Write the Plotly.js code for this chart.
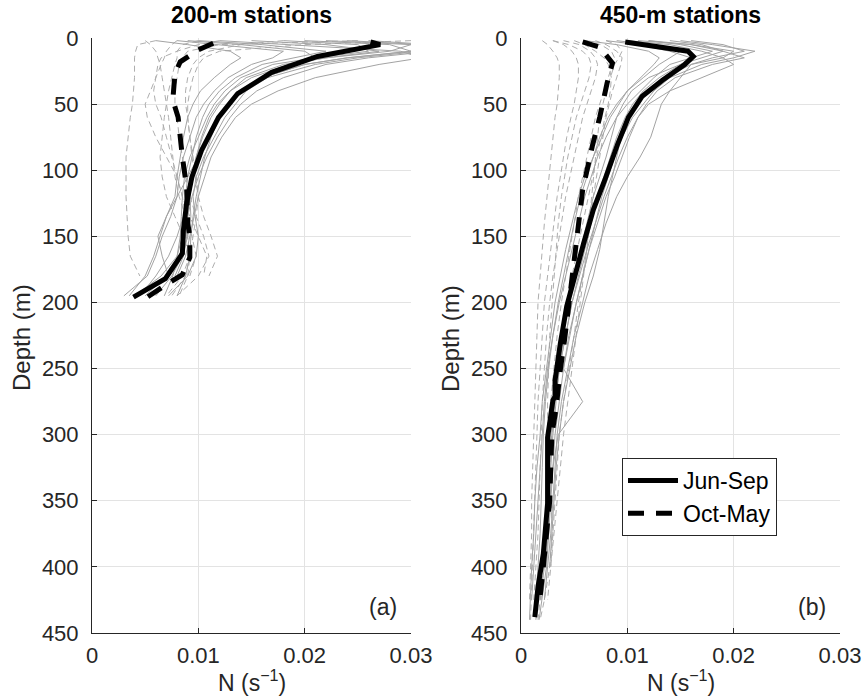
<!DOCTYPE html>
<html><head><meta charset="utf-8">
<script src="https://cdn.plot.ly/plotly-3.0.1.min.js"></script>
<style>body{margin:0;background:#fff}#plot{width:864px;height:697px}</style>
</head><body><div id="plot"></div>
<script>
// ---------- Panel (a): 200-m stations ----------
const depthA = [2,5,10,15,20,30,40,50,60,75,90,105,120,135,150,165,180,195];
const junSepA = [
 [0.024,0.031,0.032,0.026,0.022,0.018,0.0155,0.014,0.013,0.0118,0.0108,0.0100,0.0094,0.0090,0.0088,0.0082,0.0070,0.0050],
 [0.020,0.028,0.030,0.024,0.020,0.016,0.0140,0.0128,0.0118,0.0108,0.0100,0.0095,0.0092,0.0093,0.0090,0.0085,0.0075,0.0060],
 [0.015,0.022,0.027,0.022,0.018,0.0145,0.0130,0.0120,0.0112,0.0104,0.0098,0.0094,0.0090,0.0086,0.0080,0.0072,0.0060,0.0045],
 [0.012,0.018,0.029,0.031,0.027,0.021,0.0175,0.0150,0.0135,0.0122,0.0112,0.0106,0.0100,0.0096,0.0092,0.0088,0.0080,null],
 [0.010,0.016,0.022,0.019,0.016,0.0135,0.0120,0.0110,0.0104,0.0098,0.0094,0.0090,0.0088,0.0087,0.0085,0.0080,0.0065,0.0040],
 [0.008,0.012,0.018,0.017,0.015,0.0128,0.0115,0.0105,0.0098,0.0092,0.0086,0.0082,0.0080,0.0074,0.0066,0.0060,0.0052,0.0030],
 [0.026,0.032,0.031,0.025,0.021,0.0165,0.0145,0.0135,0.0125,0.0115,0.0105,0.0098,0.0095,0.0097,0.0100,0.0098,0.0090,0.0072],
 [0.006,0.009,0.013,0.014,0.013,0.0115,0.0102,0.0095,0.0090,0.0086,0.0083,0.0080,0.0078,0.0070,0.0062,0.0066,0.0072,null],
 [0.018,0.025,0.026,0.021,0.017,0.0140,0.0125,0.0115,0.0108,0.0100,0.0092,0.0087,0.0085,0.0084,0.0083,0.0080,0.0076,0.0068],
 [0.022,0.030,0.028,0.022,0.0185,0.0150,0.0130,0.0118,0.0110,0.0103,0.0098,0.0094,0.0092,0.0090,0.0089,0.0086,0.0078,null],
 [0.009,0.014,0.020,0.021,0.019,0.016,0.0140,0.0128,0.0118,0.0108,0.0100,0.0090,0.0080,0.0070,0.0064,0.0058,0.0050,0.0035],
 [0.030,0.033,0.030,0.024,0.0200,0.0160,0.0140,0.0128,0.0120,0.0112,0.0106,0.0102,0.0098,0.0095,0.0093,0.0092,0.0088,0.0080]
];
const octMayA = [
 [0.006,0.0043,0.0041,0.0040,0.0040,0.0040,0.0039,0.0038,0.0036,0.0034,0.0032,0.0032,0.0032,0.0033,0.0034,0.0036,0.0045,null],
 [0.012,0.010,0.008,0.0065,0.0062,0.0060,0.0058,0.0060,0.0065,0.0070,0.0075,0.0080,0.0085,0.0092,0.0100,0.0108,0.0105,null],
 [0.025,0.012,0.009,0.0085,0.0082,0.0080,0.0078,0.0078,0.0080,0.0082,0.0085,0.0088,0.0092,0.0098,0.0105,0.0110,0.0100,0.0080],
 [0.018,0.014,0.011,0.010,0.0095,0.0090,0.0088,0.0088,0.0090,0.0092,0.0094,0.0097,0.0100,0.0105,0.0112,0.0118,0.0110,null],
 [0.008,0.0075,0.0070,0.0068,0.0065,0.0060,0.0055,0.0050,0.0052,0.0060,0.0070,0.0080,0.0085,0.0088,0.0090,0.0092,0.0085,0.0070],
 [0.030,0.020,0.012,0.0105,0.0100,0.0095,0.0092,0.0090,0.0090,0.0092,0.0095,0.0098,0.0100,0.0098,0.0095,0.0092,0.0088,0.0075],
 [0.005,0.0055,0.0060,0.0062,0.0064,0.0066,0.0068,0.0070,0.0072,0.0074,0.0076,0.0078,0.0082,0.0088,0.0094,0.0098,0.0092,null],
 [0.010,0.0085,0.0080,0.0080,0.0078,0.0075,0.0072,0.0070,0.0068,0.0066,0.0064,0.0066,0.0070,0.0078,0.0086,0.0092,0.0090,0.0082]
];
const meanJunSepA_depth = [3,5,14,26,42,60,85,105,125,145,163,169,182,196];
const meanJunSepA_N     = [0.0262,0.0271,0.0212,0.0169,0.0137,0.0119,0.0103,0.0094,0.0089,0.0086,0.0085,0.0080,0.0069,0.0039];
const meanOctMayA_depth = [4,9,18,27,47,60,90,113,140,150,166,179,188,196];
const meanOctMayA_N     = [0.0114,0.0100,0.0083,0.0078,0.0076,0.0081,0.0085,0.0089,0.0090,0.0092,0.0092,0.0085,0.0067,0.0052];

// ---------- Panel (b): 450-m stations ----------
const depthB = [2,5,10,15,20,30,40,50,60,75,90,105,120,140,160,180,200,225,250,275,300,325,350,375,400,425,440];
const junSepB = [
 [0.015,0.018,0.022,0.020,0.017,0.0140,0.0125,0.0115,0.0105,0.0095,0.0088,0.0082,0.0076,0.0070,0.0064,0.0058,0.0052,0.0046,0.0040,0.0036,0.0032,0.0030,0.0028,0.0026,0.0022,0.0018,null],
 [0.012,0.016,0.019,0.021,0.018,0.0145,0.0128,0.0118,0.0110,0.0102,0.0095,0.0088,0.0080,0.0072,0.0064,0.0058,0.0052,0.0045,0.0040,0.0058,0.0035,0.0030,0.0027,0.0025,0.0022,null,null],
 [0.010,0.014,0.017,0.019,0.020,0.017,0.0140,0.0120,0.0110,0.0100,0.0092,0.0085,0.0078,0.0070,0.0062,0.0055,0.0048,0.0042,0.0036,0.0032,0.0029,0.0027,0.0025,0.0022,0.0019,0.0016,0.0014],
 [0.008,0.011,0.014,0.016,0.015,0.0130,0.0115,0.0105,0.0098,0.0090,0.0084,0.0078,0.0072,0.0066,0.0060,0.0054,0.0048,0.0042,0.0036,0.0032,0.0028,0.0026,0.0024,0.0022,0.0018,null,null],
 [0.012,0.015,0.018,0.016,0.014,0.0125,0.0112,0.0100,0.0090,0.0080,0.0072,0.0066,0.0060,0.0054,0.0048,0.0042,0.0036,0.0030,0.0026,0.0023,0.0021,0.0020,0.0019,0.0018,0.0016,0.0014,null],
 [0.016,0.019,0.021,0.018,0.016,0.0150,0.0140,0.0132,0.0128,0.0122,0.0112,0.0100,0.0090,0.0080,0.0072,0.0064,0.0058,0.0050,0.0044,0.0038,0.0034,0.0032,0.0030,0.0028,0.0025,0.0022,null],
 [0.009,0.012,0.015,0.014,0.013,0.0115,0.0100,0.0090,0.0082,0.0074,0.0068,0.0062,0.0056,0.0050,0.0045,0.0040,0.0035,0.0030,0.0025,0.0022,0.0020,0.0018,0.0016,0.0014,0.0012,0.0010,null],
 [0.011,0.016,0.020,0.019,0.016,0.0135,0.0120,0.0108,0.0100,0.0094,0.0090,0.0086,0.0082,0.0078,0.0074,0.0068,0.0060,0.0052,0.0046,0.0040,0.0036,0.0033,0.0031,0.0029,0.0027,null,null],
 [0.006,0.009,0.012,0.013,0.0125,0.0112,0.0100,0.0092,0.0084,0.0076,0.0068,0.0060,0.0054,0.0048,0.0042,0.0037,0.0032,0.0028,0.0024,0.0020,0.0018,0.0015,0.0013,0.0012,0.0010,0.0009,0.0008],
 [0.014,0.017,0.019,0.017,0.0150,0.0120,0.0104,0.0096,0.0090,0.0085,0.0080,0.0074,0.0068,0.0062,0.0056,0.0050,0.0044,0.0040,0.0036,0.0033,0.0030,0.0028,0.0027,0.0026,0.0024,0.0020,0.0017]
];
const octMayB = [
 [0.002,0.0025,0.0030,0.0034,0.0036,0.0036,0.0035,0.0034,0.0032,0.0030,0.0028,0.0026,0.0024,0.0022,0.0020,0.0018,0.0016,0.0015,0.0014,0.0013,0.0012,0.0011,0.0010,0.0010,0.0009,0.0008,null],
 [0.003,0.0040,0.0048,0.0052,0.0054,0.0054,0.0052,0.0050,0.0047,0.0043,0.0040,0.0037,0.0034,0.0031,0.0028,0.0025,0.0022,0.0020,0.0018,0.0016,0.0015,0.0014,0.0013,0.0012,0.0011,0.0010,0.0009],
 [0.004,0.0055,0.0065,0.0070,0.0072,0.0070,0.0066,0.0062,0.0058,0.0054,0.0050,0.0046,0.0042,0.0038,0.0034,0.0030,0.0027,0.0024,0.0022,0.0020,0.0019,0.0018,0.0017,0.0016,0.0014,0.0012,null],
 [0.006,0.0075,0.0085,0.0088,0.0086,0.0082,0.0078,0.0074,0.0070,0.0066,0.0062,0.0058,0.0054,0.0050,0.0046,0.0042,0.0038,0.0034,0.0031,0.0028,0.0026,0.0025,0.0024,0.0022,0.0020,0.0018,0.0016],
 [0.008,0.0090,0.0095,0.0092,0.0088,0.0084,0.0080,0.0077,0.0074,0.0072,0.0070,0.0068,0.0066,0.0064,0.0062,0.0058,0.0054,0.0050,0.0045,0.0040,0.0036,0.0034,0.0032,0.0030,0.0028,null,null],
 [0.003,0.0045,0.0058,0.0064,0.0066,0.0064,0.0060,0.0056,0.0052,0.0048,0.0044,0.0041,0.0038,0.0035,0.0033,0.0031,0.0029,0.0027,0.0026,0.0025,0.0025,0.0026,0.0028,0.0030,0.0027,0.0022,0.0018],
 [0.005,0.0060,0.0070,0.0078,0.0082,0.0085,0.0084,0.0082,0.0079,0.0075,0.0071,0.0067,0.0063,0.0058,0.0053,0.0048,0.0043,0.0038,0.0034,0.0031,0.0029,0.0027,0.0025,0.0023,0.0021,0.0019,null],
 [0.007,0.0080,0.0090,0.0095,0.0094,0.0090,0.0086,0.0083,0.0080,0.0077,0.0074,0.0071,0.0068,0.0065,0.0062,0.0059,0.0056,0.0052,0.0048,0.0044,0.0040,0.0037,0.0034,0.0031,0.0028,0.0025,null]
];
const meanJunSepB_depth = [3,10,14,20,32,44,60,80,107,130,155,173,203,231,259,271,274,291,302,327,352,390,415,438];
const meanJunSepB_N     = [0.0098,0.0157,0.0162,0.0154,0.0133,0.0114,0.0101,0.0091,0.0079,0.0068,0.0059,0.0053,0.0043,0.0037,0.0032,0.0032,0.0030,0.0027,0.0025,0.0025,0.0025,0.0021,0.0016,0.0013];
const meanOctMayB_depth = [3,7,19,34,60,82,115,150,178,228,251,280,300,350,400,430];
const meanOctMayB_N     = [0.0058,0.0074,0.0086,0.0081,0.0074,0.0067,0.0058,0.0053,0.0049,0.0041,0.0037,0.0033,0.0029,0.0027,0.0021,0.0017];

const seasons = ['Jun-Sep','Oct-May'];
const xTicks = [0,0.01,0.02,0.03];
const xTickText = ['0','0.01','0.02','0.03'];
const yTicks = [0,50,100,150,200,250,300,350,400,450];
const panelTitles = ['200-m stations','450-m stations'];
const panelLabels = ['(a)','(b)'];

// ---------- Build traces ----------
const traces = [];
function thin(N, depth, dashed, xa, ya){
  traces.push({x:N, y:depth, xaxis:xa, yaxis:ya, type:'scatter', mode:'lines',
    line:{color: dashed ? '#adadad' : '#a3a3a3', width:1, dash: dashed ? '6px,4px' : 'solid'},
    showlegend:false, hoverinfo:'skip', connectgaps:false});
}
octMayA.forEach(r=>thin(r, depthA, true, 'x','y'));
junSepA.forEach(r=>thin(r, depthA, false, 'x','y'));
octMayB.forEach(r=>thin(r, depthB, true, 'x2','y2'));
junSepB.forEach(r=>thin(r, depthB, false, 'x2','y2'));

traces.push({x:meanOctMayA_N, y:meanOctMayA_depth, xaxis:'x', yaxis:'y', mode:'lines',
  line:{color:'#000', width:5, dash:'16px,12px'}, showlegend:false});
traces.push({x:meanJunSepA_N, y:meanJunSepA_depth, xaxis:'x', yaxis:'y', mode:'lines',
  line:{color:'#000', width:5}, showlegend:false});
traces.push({x:meanOctMayB_N, y:meanOctMayB_depth, xaxis:'x2', yaxis:'y2', mode:'lines', name:seasons[1],
  line:{color:'#000', width:5, dash:'16px,12px'}, showlegend:true, legendrank:2});
traces.push({x:meanJunSepB_N, y:meanJunSepB_depth, xaxis:'x2', yaxis:'y2', mode:'lines', name:seasons[0],
  line:{color:'#000', width:5}, showlegend:true, legendrank:1});

const FONT = 'Liberation Sans, Arial, Helvetica, sans-serif';
const W = 864, H = 697;
const yDom = [1-633/H, 1-38/H];
function xax(dom){
  return {domain:dom, range:[0,0.03], tickvals:xTicks, ticktext:xTickText, ticks:'inside', ticklen:5,
    tickcolor:'#262626', showline:true, linecolor:'#262626', linewidth:1, showgrid:true, gridcolor:'#e3e3e3',
    zeroline:false, tickfont:{size:22, color:'#262626'}, ticklabelstandoff:3, fixedrange:true};
}
function yax(anchor){
  return {domain:yDom, range:[450,0], anchor:anchor, tickvals:yTicks, ticks:'inside', ticklen:5,
    tickcolor:'#262626', showline:true, linecolor:'#262626', linewidth:1, showgrid:true, gridcolor:'#e3e3e3',
    zeroline:false, tickfont:{size:22, color:'#262626'}, ticklabelstandoff:8, fixedrange:true};
}
const domA = [92/W, 411/W], domB = [521/W, 840/W];
const annotations = [];
[[domA,'x','y'],[domB,'x2','y2']].forEach(([dom,xa,ya],i)=>{
  annotations.push({text:'<b>'+panelTitles[i]+'</b>', xref:'paper', yref:'paper', x:(dom[0]+dom[1])/2, y:1-15/H,
    xanchor:'center', yanchor:'middle', showarrow:false, font:{size:23, color:'#000', family:FONT}});
  annotations.push({text:'Depth (m)', xref:'paper', yref:'paper', x:(dom[0]*W-70)/W, y:1-338/H, textangle:-90,
    xanchor:'center', yanchor:'middle', showarrow:false, font:{size:24, color:'#262626', family:FONT}});
  annotations.push({text:'N (s<sup>−1</sup>)', xref:'paper', yref:'paper', x:(dom[0]+dom[1])/2, y:1-681/H,
    xanchor:'center', yanchor:'middle', showarrow:false, font:{size:23, color:'#262626', family:FONT}});
  annotations.push({text:panelLabels[i], xref:xa, yref:ya, x:0.0289, y:430, xanchor:'right', yanchor:'middle',
    showarrow:false, font:{size:23, color:'#262626', family:FONT}});
});

const layout = {
  width:W, height:H, margin:{l:0,r:0,t:0,b:0}, paper_bgcolor:'#fff', plot_bgcolor:'#fff',
  font:{family:FONT, color:'#262626'},
  xaxis:xax(domA), yaxis:yax('x'), xaxis2:xax(domB), yaxis2:yax('x2'),
  showlegend:true,
  legend:{x:622/W, y:1-458/H, xanchor:'left', yanchor:'top', bgcolor:'#fff', bordercolor:'#262626', borderwidth:1,
    font:{size:23, color:'#000', family:FONT}, itemwidth:50, tracegroupgap:0},
  annotations:annotations
};
Plotly.newPlot('plot', traces, layout, {staticPlot:true, displayModeBar:false});
</script></body></html>
